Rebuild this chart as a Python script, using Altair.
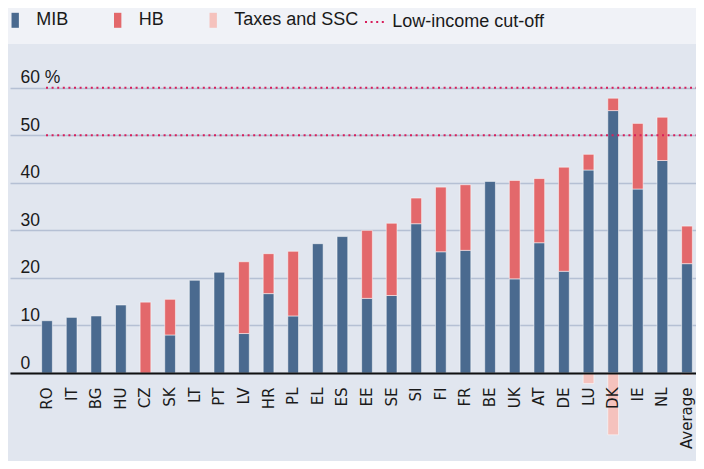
import altair as alt
import pandas as pd

countries = ["RO", "IT", "BG", "HU", "CZ", "SK", "LT", "PT", "LV", "HR", "PL", "EL", "ES",
             "EE", "SE", "SI", "FI", "FR", "BE", "UK", "AT", "DE", "LU", "DK", "IE", "NL", "Average"]
mib = [11.0, 11.7, 12.0, 14.3, 0.0, 8.0, 19.5, 21.2, 8.3, 16.7, 12.0, 27.2, 28.7,
       15.7, 16.3, 31.4, 25.5, 25.8, 40.3, 19.8, 27.4, 21.4, 42.7, 55.2, 38.7, 44.7, 23.0]
hb = [0.0, 0.0, 0.0, 0.0, 14.9, 7.5, 0.0, 0.0, 15.1, 8.4, 13.6, 0.0, 0.0,
      14.3, 15.2, 5.4, 13.6, 13.8, 0.0, 20.7, 13.5, 21.9, 3.3, 2.6, 13.8, 9.1, 7.9]
taxes = [0.0] * 22 + [-2.2, -13.0, 0.0, 0.0, -0.4]
cutoffs = [50, 60]
y_ticks = [0, 10, 20, 30, 40, 50, 60]

components = ["MIB", "HB", "Taxes and SSC"]
comp_colors = ["#4a6a8f", "#e3686b", "#f5c2bd"]
cut_label = "Low-income cut-off"

rows = []
for i, c in enumerate(countries):
    for k, (name, arr) in enumerate(zip(components, [mib, hb, taxes])):
        if arr[i] != 0:
            rows.append({"country": c, "component": name, "value": arr[i], "order": k})
df = pd.DataFrame(rows)
cut_df = pd.DataFrame({"value": cutoffs, "label": [cut_label] * len(cutoffs)})

W, H = 686, 309
LEG_FONT = "Liberation Sans"

x_scale = alt.Scale(domain=countries, paddingInner=0.565, paddingOuter=0.7175,
                    align=0.8966, round=False)
y_scale = alt.Scale(domain=[0, 65], nice=False, zero=True)

top_strip = alt.Chart(pd.DataFrame({"a": [0]})).mark_rect(color="#f0f2f7").encode(
    x=alt.value(-2), x2=alt.value(W + 20), y=alt.value(-56), y2=alt.value(-20)
)

bars = alt.Chart(df).mark_bar(stroke="white", strokeOpacity=0.5, strokeWidth=1).encode(
    x=alt.X("country:N", sort=countries, scale=x_scale,
            axis=alt.Axis(title=None, labelAngle=270, labelAlign="right", labelBaseline="middle",
                          domain=True, domainColor="#111111", domainWidth=2, ticks=False,
                          labelPadding=14, labelFont="DejaVu Sans", labelFontSize=15,
                          labelColor="#1a1a1a", grid=False, zindex=1)),
    y=alt.Y("value:Q", stack="zero", scale=y_scale,
            axis=alt.Axis(title=None, values=y_ticks, grid=True, gridColor="#b5c0d4",
                          gridWidth=1.5, domain=False, ticks=False, tickSize=0,
                          labelAlign="left", labelBaseline="alphabetic", labelPadding=-10,
                          labelOffset=-5, labelFont=LEG_FONT, labelFontSize=17.5,
                          labelColor="#1a1a1a", labelFlush=False, labelOverlap=False,
                          labelExpr="datum.value == 60 ? '60 %' : datum.label")),
    color=alt.Color("component:N", scale=alt.Scale(domain=components, range=comp_colors),
                    legend=alt.Legend(title=None, orient="none", legendX=-3.8, legendY=-52.7,
                                      direction="horizontal",
                                      symbolType="M-0.49,-1H0.49V1H-0.49Z", symbolSize=225,
                                      symbolStrokeWidth=0, symbolOpacity=1,
                                      labelFont=LEG_FONT, labelFontSize=18,
                                      labelColor="#1a1a1a", labelOffset=12,
                                      columnPadding=39.5, padding=0, labelLimit=300,
                                      zindex=1)),
    order=alt.Order("order:Q"),
)

rules = alt.Chart(cut_df).mark_rule(strokeDash=[2, 3.6], strokeWidth=2).encode(
    y=alt.Y("value:Q", scale=y_scale),
    x=alt.value(36),
    x2=alt.value(W),
    stroke=alt.Stroke("label:N", scale=alt.Scale(domain=[cut_label], range=["#d81e5b"]),
                      legend=alt.Legend(title=None, orient="none", legendX=354, legendY=-53,
                                        symbolType="stroke", symbolSize=400,
                                        symbolDash=[2, 3.6], symbolStrokeWidth=2,
                                        labelFont=LEG_FONT, labelFontSize=18,
                                        labelColor="#1a1a1a", labelOffset=6.3,
                                        padding=0, labelLimit=300, zindex=1)),
)

chart = alt.layer(top_strip, bars, rules).properties(
    width=W, height=H, background="#e1e6ef",
    padding={"left": 2, "right": 0, "top": 56, "bottom": 88},
    autosize=alt.AutoSizeParams(type="none"),
).configure_view(strokeWidth=0)

chart.save("out.html", embed_options={"renderer": "svg", "actions": False})
